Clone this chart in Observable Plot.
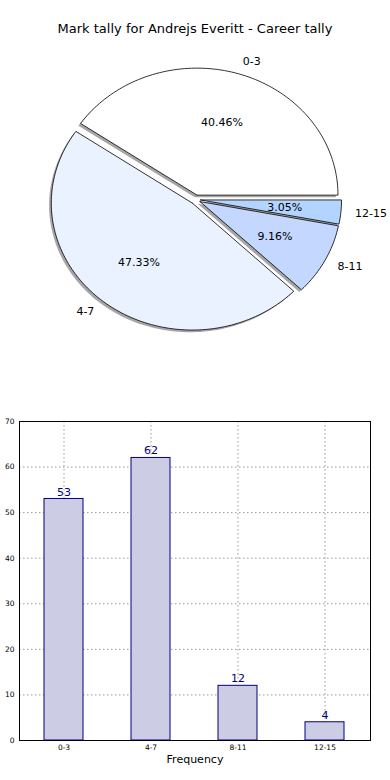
<!DOCTYPE html>
<html>
<head>
<meta charset="utf-8">
<script src="https://cdn.jsdelivr.net/npm/d3@7"></script>
<script src="https://cdn.jsdelivr.net/npm/@observablehq/plot@0.6"></script>
<style>
  html, body { margin: 0; padding: 0; background: #fff; }
  #wrap { position: relative; width: 390px; height: 780px; overflow: hidden; font-family: "DejaVu Sans", sans-serif; }
  #title { position: absolute; top: 21px; left: 0; width: 390px; text-align: center; font-size: 13px; color: #000; }
  #pie { position: absolute; top: 0; left: 0; }
  #bar { position: absolute; top: 410px; left: 0; }
</style>
</head>
<body>
<div id="wrap">
  <div id="pie"></div>
  <div id="title">Mark tally for Andrejs Everitt - Career tally</div>
  <div id="bar"></div>
</div>
<script>
// ---- data ----
const categories = ["0-3", "4-7", "8-11", "12-15"];
const counts = [53, 62, 12, 4];
const yTicks = [0, 10, 20, 30, 40, 50, 60, 70];
const title = "Mark tally for Andrejs Everitt - Career tally";
const xLabel = "Frequency";

// ---- styles ----
const sliceColors = ["#ffffff", "#eaf1ff", "#c4d8ff", "#b3d4ff"];
const font = "DejaVu Sans, sans-serif";

// ---- pie geometry (computed from counts) ----
const total = d3.sum(counts);
const explode = 0.036;
let acc = 0;
const slices = categories.map((c, i) => {
  const a0 = acc / total * 360;
  acc += counts[i];
  const a1 = acc / total * 360;
  const mid = (a0 + a1) / 2 * Math.PI / 180;
  const cx = explode * Math.cos(mid), cy = explode * Math.sin(mid);
  const pts = [{x: cx, y: cy}];
  const n = Math.max(4, Math.ceil((a1 - a0) / 1.5));
  for (let k = 0; k <= n; k++) {
    const t = (a0 + (a1 - a0) * k / n) * Math.PI / 180;
    pts.push({x: cx + Math.cos(t), y: cy + Math.sin(t)});
  }
  pts.push({x: cx, y: cy});
  return {
    cat: c, pts, color: sliceColors[i],
    pct: (100 * counts[i] / total).toFixed(2) + "%",
    px: cx + 0.6 * Math.cos(mid), py: cy + 0.6 * Math.sin(mid),
    lx: cx + 1.1 * Math.cos(mid), ly: cy + 1.1 * Math.sin(mid)
  };
});

const rx = 141, ry = 127, pcx = 195, pcy = 199, pieH = 390;
const pie = Plot.plot({
  width: 390, height: pieH,
  margin: 0,
  x: {domain: [-pcx / rx, (390 - pcx) / rx], axis: null},
  y: {domain: [-(pieH - pcy) / ry, pcy / ry], axis: null},
  style: {fontFamily: font, background: "transparent"},
  marks: [
    ...slices.map(s => Plot.line(s.pts, {x: "x", y: "y", fill: "#4d4d4d", fillOpacity: 0.5, stroke: "none", dx: -2.2, dy: 2.2})),
    ...slices.map(s => Plot.line(s.pts, {x: "x", y: "y", fill: s.color, stroke: "#000", strokeWidth: 0.8, strokeLinejoin: "miter"})),
    Plot.text(slices, {x: "px", y: "py", text: "pct", fontSize: 11, fill: "#000"}),
    Plot.text(slices.filter(s => s.lx >= 0), {x: "lx", y: "ly", text: "cat", textAnchor: "start", fontSize: 11, fill: "#000"}),
    Plot.text(slices.filter(s => s.lx < 0), {x: "lx", y: "ly", text: "cat", textAnchor: "end", fontSize: 11, fill: "#000"})
  ]
});
document.getElementById("pie").appendChild(pie);
document.getElementById("title").textContent = title;

// ---- bar chart ----
const bars = categories.map((c, i) => ({cat: c, value: counts[i]}));
const bar = Plot.plot({
  width: 390, height: 370,
  marginTop: 11, marginBottom: 40, marginLeft: 19, marginRight: 20,
  style: {fontFamily: font, background: "transparent", overflow: "visible"},
  x: {domain: categories, padding: 0.55, paddingOuter: 0.275, label: null},
  y: {domain: [0, 70], label: null},
  marks: [
    Plot.gridY(yTicks, {stroke: "#999", strokeOpacity: 1, strokeWidth: 1, strokeDasharray: "1.5,2.5"}),
    Plot.gridX({stroke: "#999", strokeOpacity: 1, strokeWidth: 1, strokeDasharray: "1.5,2.5"}),
    Plot.barY(bars, {x: "cat", y: "value", fill: "#ccccE5", stroke: "#000080", strokeWidth: 1}),
    Plot.text(bars, {x: "cat", y: "value", text: d => String(d.value), dy: -7, fill: "#000080", fontSize: 11}),
    Plot.axisY(yTicks, {tickSize: 0, tickPadding: 5, fontSize: 7.5, fill: "#000"}),
    Plot.axisX({tickSize: 0, tickPadding: 4, fontSize: 7.5, fill: "#000", label: null}),
    Plot.text([xLabel], {frameAnchor: "bottom", dy: 22, fontSize: 11, fill: "#000"}),
    Plot.frame({stroke: "#000", strokeWidth: 1})
  ]
});
document.getElementById("bar").appendChild(bar);
</script>
</body>
</html>
